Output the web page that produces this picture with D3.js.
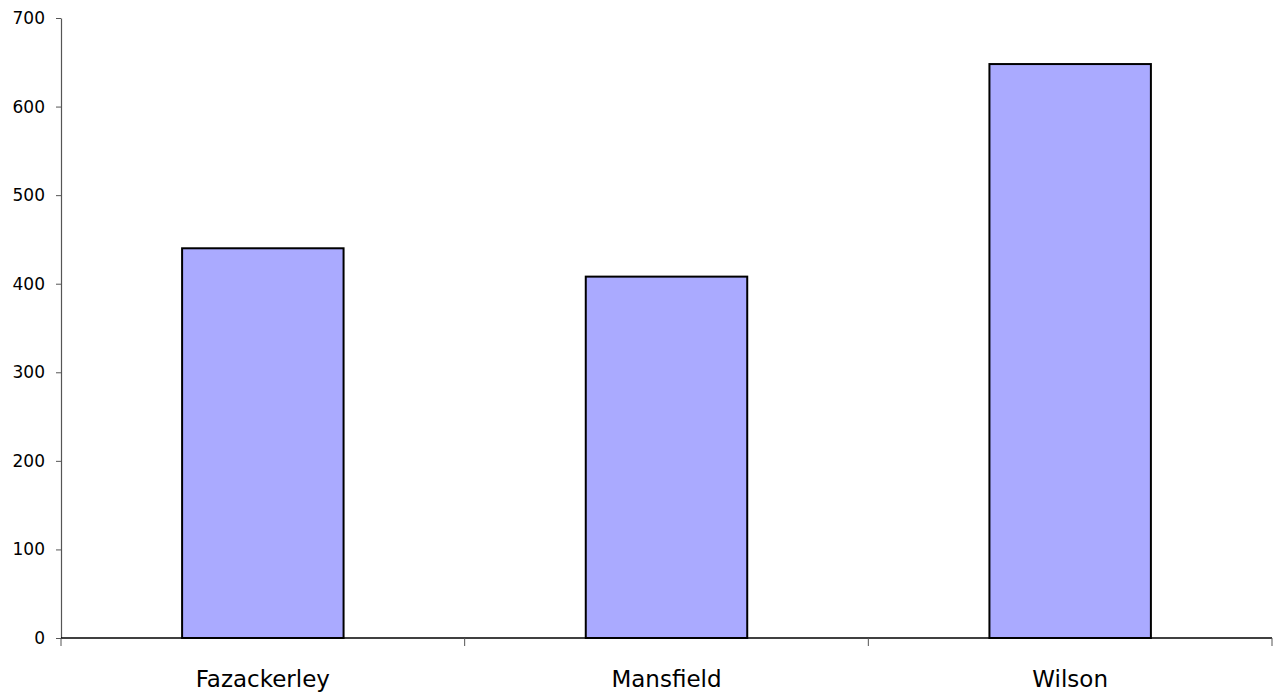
<!DOCTYPE html>
<meta charset="utf-8">
<head>
    <title>Bar chart</title>
    <script src="https://cdn.jsdelivr.net/npm/d3@7"></script>
    <style>
        body { margin: 0; background: #fff; }
        text { font-family: "DejaVu Sans", sans-serif; fill: #000; }
    </style>
</head>
<body>
<div id="chart"></div>
<script>
    // data
    var categories = ["Fazackerley", "Mansfield", "Wilson"]
    var values = [440, 408, 648]
    var yTicks = [0, 100, 200, 300, 400, 500, 600, 700]

    var width = 1284, height = 699
    var margin = {top: 18, right: 12, bottom: 61, left: 61}

    var svg = d3.select("#chart").append("svg")
      .attr("width", width)
      .attr("height", height)

    var x = d3.scaleBand()
      .domain(categories)
      .range([margin.left, width - margin.right])
      .padding(0)

    var y = d3.scaleLinear()
      .domain([0, 700])
      .range([height - margin.bottom, margin.top])

    // bars
    var barW = x.bandwidth() * 0.4
    svg.append("g").selectAll("rect")
      .data(values)
      .enter()
        .append("rect")
        .attr("x", function(d, i){ return x(categories[i]) + (x.bandwidth() - barW) / 2 })
        .attr("y", function(d){ return y(d) })
        .attr("width", barW)
        .attr("height", function(d){ return y(0) - y(d) })
        .style("fill", "#aaaaff")
        .style("stroke", "#000")
        .style("stroke-width", 2)

    // y axis
    var yAxis = svg.append("g")
      .attr("transform", "translate(" + margin.left + ",0)")
      .call(d3.axisLeft(y).tickValues(yTicks).tickSize(5).tickSizeOuter(0).tickPadding(11))
    yAxis.selectAll("text").style("font-size", "17px")
    yAxis.select(".domain").attr("stroke", "#555").attr("stroke-width", 1.2)
    yAxis.selectAll(".tick line").attr("stroke", "#555")

    // x axis
    var xAxis = svg.append("g")
      .attr("transform", "translate(0," + y(0) + ")")
    xAxis.append("line")
      .attr("x1", margin.left).attr("x2", width - margin.right)
      .attr("stroke", "#000").attr("stroke-width", 1.5)
    var bounds = categories.map(function(c){ return x(c) }).concat([x(categories[categories.length - 1]) + x.bandwidth()])
    xAxis.selectAll(".sep")
      .data(bounds)
      .enter()
        .append("line")
        .attr("x1", function(d){ return d }).attr("x2", function(d){ return d })
        .attr("y1", 0).attr("y2", 8)
        .attr("stroke", "#555")
    xAxis.selectAll(".lab")
      .data(categories)
      .enter()
        .append("text")
        .attr("x", function(d){ return x(d) + x.bandwidth() / 2 })
        .attr("y", 49)
        .attr("text-anchor", "middle")
        .style("font-size", "23px")
        .text(function(d){ return d })
</script>
</body>
